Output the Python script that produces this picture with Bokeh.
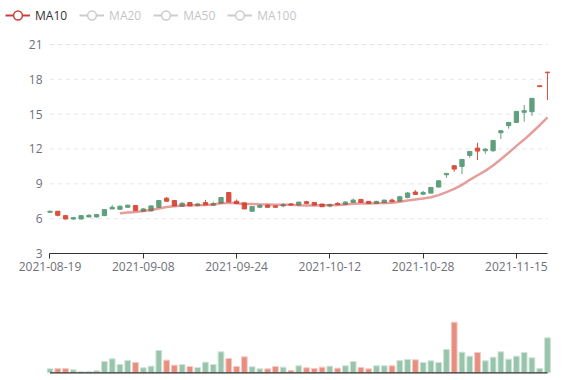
import numpy as np
import pandas as pd
from bokeh.plotting import figure
from bokeh.models import ColumnDataSource, Range1d, FixedTicker, Legend, LegendItem
from bokeh.layouts import column
from bokeh.embed import file_html
from bokeh.resources import INLINE

# ---------------- data ----------------
dates = [
    "2021-08-19", "2021-08-20", "2021-08-23", "2021-08-24", "2021-08-25", "2021-08-26",
    "2021-08-27", "2021-08-30", "2021-08-31", "2021-09-01", "2021-09-02", "2021-09-03",
    "2021-09-08", "2021-09-09", "2021-09-10", "2021-09-13", "2021-09-14", "2021-09-15",
    "2021-09-16", "2021-09-17", "2021-09-20", "2021-09-21", "2021-09-22", "2021-09-23",
    "2021-09-24", "2021-09-27", "2021-09-28", "2021-09-29", "2021-09-30", "2021-10-01",
    "2021-10-04", "2021-10-05", "2021-10-06", "2021-10-07", "2021-10-08", "2021-10-11",
    "2021-10-12", "2021-10-13", "2021-10-14", "2021-10-15", "2021-10-18", "2021-10-19",
    "2021-10-20", "2021-10-21", "2021-10-22", "2021-10-25", "2021-10-26", "2021-10-27",
    "2021-10-28", "2021-10-29", "2021-11-01", "2021-11-02", "2021-11-03", "2021-11-04",
    "2021-11-05", "2021-11-08", "2021-11-09", "2021-11-10", "2021-11-11", "2021-11-12",
    "2021-11-15", "2021-11-16", "2021-11-17", "2021-11-18", "2021-11-19",
]

opens = [6.55, 6.64, 6.26, 5.97, 5.97, 6.15, 6.15, 6.26, 6.84, 6.81,
         6.98, 7.13, 6.64, 6.67, 6.98, 7.76, 7.56, 7.07, 7.39, 7.13,
         7.39, 7.16, 7.33, 8.25, 7.50, 7.36, 6.64, 6.98, 7.16, 7.10,
         7.10, 7.26, 7.17, 7.46, 7.40, 7.26, 7.09, 7.31, 7.23, 7.40,
         7.66, 7.49, 7.31, 7.37, 7.60, 7.51, 7.83, 8.29, 8.11, 8.20,
         8.72, 9.78, 10.56, 10.50, 11.45, 12.08, 11.85, 11.85, 13.40, 14.01,
         14.29, 15.16, 15.21, 17.45, 18.62]
closes = [6.64, 6.29, 5.97, 6.09, 6.26, 6.29, 6.35, 6.78, 6.98, 7.07,
          7.16, 6.69, 6.84, 7.10, 7.56, 7.50, 7.10, 7.33, 7.10, 7.27,
          7.18, 7.30, 7.82, 7.44, 7.30, 6.84, 7.04, 7.13, 6.98, 6.98,
          7.21, 7.17, 7.43, 7.31, 7.17, 7.03, 7.23, 7.20, 7.43, 7.60,
          7.40, 7.31, 7.49, 7.60, 7.46, 7.89, 8.21, 8.09, 8.26, 8.69,
          9.26, 9.90, 10.27, 11.10, 11.79, 11.82, 11.99, 12.74, 13.57, 14.29,
          15.24, 15.30, 16.36, 17.37, 18.57]
lows = [6.49, 6.20, 5.94, 5.89, 5.95, 6.12, 6.09, 6.24, 6.82, 6.75,
        6.96, 6.67, 6.58, 6.65, 6.96, 7.48, 7.08, 7.01, 7.08, 7.04,
        7.16, 7.10, 7.31, 7.42, 7.28, 6.82, 6.60, 6.90, 6.96, 6.96,
        6.98, 7.15, 7.15, 7.23, 7.15, 7.01, 6.97, 7.18, 7.21, 7.38,
        7.38, 7.29, 7.29, 7.35, 7.44, 7.49, 7.75, 8.07, 8.03, 8.16,
        8.70, 9.52, 10.04, 9.84, 11.25, 11.05, 11.59, 11.76, 12.86, 13.75,
        14.27, 14.35, 14.87, 17.36, 16.22]
highs = [6.69, 6.66, 6.32, 6.15, 6.29, 6.38, 6.41, 6.80, 7.18, 7.13,
         7.21, 7.15, 6.90, 7.12, 7.58, 7.87, 7.58, 7.41, 7.44, 7.36,
         7.62, 7.47, 7.84, 8.27, 7.65, 7.38, 7.06, 7.24, 7.27, 7.12,
         7.33, 7.34, 7.45, 7.54, 7.42, 7.28, 7.29, 7.43, 7.51, 7.74,
         7.68, 7.51, 7.54, 7.62, 7.74, 7.97, 8.29, 8.46, 8.40, 8.72,
         9.29, 9.92, 10.58, 11.12, 11.81, 12.54, 12.08, 12.77, 13.60, 14.31,
         15.27, 15.79, 16.40, 17.46, 18.63]

volumes = [12, 13, 13, 9, 4, 4, 6, 34, 42, 25,
           37, 31, 15, 20, 67, 38, 23, 25, 19, 16,
           32, 25, 63, 43, 19, 48, 18, 12, 12, 19,
           17, 7, 21, 15, 13, 17, 20, 14, 21, 34,
           16, 12, 21, 21, 21, 37, 40, 39, 31, 36,
           31, 70, 152, 62, 50, 61, 36, 47, 63, 41,
           50, 61, 45, 13, 105]
volume_dir = ["up", "down", "down", "up", "up", "up", "up", "up", "up", "up",
              "up", "down", "up", "up", "up", "down", "down", "up", "down", "up",
              "up", "up", "up", "down", "down", "down", "up", "up", "down", "down",
              "up", "down", "up", "down", "down", "down", "up", "down", "up", "up",
              "down", "down", "up", "up", "down", "up", "up", "down", "up", "up",
              "up", "up", "down", "up", "up", "down", "up", "up", "up", "up",
              "up", "up", "up", "up", "up"]

ma_names = ["MA10", "MA20", "MA50", "MA100"]
ma_windows = [10, 20, 50, 100]
y_ticks = [3, 6, 9, 12, 15, 18, 21]
x_tick_idx = [0, 12, 24, 36, 48, 60]

# ---------------- styling ----------------
UP = "#5f9f7e"
DOWN = "#d8503e"
VOL_UP = "#98c4ab"
VOL_DOWN = "#e78e80"
VOL_UP_EDGE = "#cfe4d8"
VOL_DOWN_EDGE = "#f4cbc3"
MA_COLOR = "#c9403a"
LABEL_COLOR = "#6E7079"
FONT = "Open Sans"
W = 571
BL, BR = 46, 20

n = len(dates)
idx = list(range(n))
top = [max(o, c) for o, c in zip(opens, closes)]
bot = [min(o, c) for o, c in zip(opens, closes)]
ccol = [UP if c >= o else DOWN for o, c in zip(opens, closes)]
src = ColumnDataSource(dict(x=idx, open=opens, close=closes, low=lows, high=highs,
                            top=top, bottom=bot, color=ccol))

closes_s = pd.Series(closes, dtype=float)
ma = {name: closes_s.rolling(w, min_periods=1 if w > n else w).mean().to_numpy()
      for name, w in zip(ma_names, ma_windows)}

x_range = Range1d(-0.450, 64.515)

# ---------------- legend row (its own root, so its frame spans the full width) ----------------
p0 = figure(width=W, height=36, x_range=Range1d(-1000, -999), y_range=Range1d(-1000, -999),
            output_backend="svg", toolbar_location=None, x_axis_type=None, y_axis_type=None,
            min_border_left=0, min_border_right=0, min_border_top=0, min_border_bottom=0)
p0.outline_line_color = None
items = []
for k, name in enumerate(ma_names):
    col = MA_COLOR if k == 0 else "#555555"
    l = p0.line(x=idx, y=ma[name], line_color=col, line_width=2, visible=(k == 0))
    s = p0.scatter(x=idx, y=ma[name], marker="circle", fill_color="white", line_color=col,
                   line_width=1.5, visible=(k == 0))
    items.append(LegendItem(label=name, renderers=[l, s]))
legend = Legend(items=items, location=(5, 10), orientation="horizontal", click_policy="hide",
                glyph_width=25, glyph_height=22, label_height=22, label_standoff=5, spacing=12,
                padding=0, margin=0, border_line_color=None, background_fill_alpha=0,
                label_text_font=FONT, label_text_font_size="12px", label_text_color="#333333",
                inactive_fill_color="white", inactive_fill_alpha=0.7)
p0.add_layout(legend)

# ---------------- price chart ----------------
p1 = figure(width=W, height=254, x_range=x_range, y_range=Range1d(3, 21.086),
            output_backend="svg", toolbar_location=None,
            min_border_left=BL, min_border_right=BR, min_border_top=7, min_border_bottom=37)
p1.outline_line_color = None
p1.xgrid.visible = False
p1.ygrid.visible = False

grid_vals = y_ticks[1:]
p1.segment(x0=[0] * len(grid_vals), x1=[n - 1] * len(grid_vals), y0=grid_vals, y1=grid_vals,
           line_color="#E0E6F1", line_width=1, line_dash="4 4")

ya = p1.yaxis[0]
ya.ticker = FixedTicker(ticks=y_ticks)
ya.axis_line_color = None
ya.major_tick_line_color = None
ya.minor_tick_line_color = None
ya.major_tick_out = 0
ya.major_tick_in = 0
ya.major_label_standoff = 4
ya.major_label_text_font = FONT
ya.major_label_text_font_size = "12px"
ya.major_label_text_color = LABEL_COLOR

xa = p1.xaxis[0]
xa.ticker = FixedTicker(ticks=x_tick_idx)
xa.major_label_overrides = {i: dates[i] for i in x_tick_idx}
xa.bounds = (0, n - 1)
xa.axis_line_color = "#333333"
xa.axis_line_width = 1
xa.major_tick_line_color = "#333333"
xa.major_tick_out = 5
xa.major_tick_in = 0
xa.minor_tick_line_color = None
xa.major_label_standoff = 3
xa.major_label_text_font = FONT
xa.major_label_text_font_size = "12px"
xa.major_label_text_color = LABEL_COLOR

p1.segment(x0="x", x1="x", y0="low", y1="high", line_color="color", line_width=1, source=src)
p1.vbar(x="x", width=0.55, top="top", bottom="bottom", fill_color="color",
        line_color="color", line_width=1, source=src)

p1.line(x=idx, y=ma["MA10"], line_color=MA_COLOR, line_alpha=0.5, line_width=2.5)

# ---------------- volume ----------------
vsrc = ColumnDataSource(dict(
    x=idx, vol=volumes,
    fill=[VOL_UP if d == "up" else VOL_DOWN for d in volume_dir],
    edge=[VOL_UP_EDGE if d == "up" else VOL_DOWN_EDGE for d in volume_dir]))

p2 = figure(width=W, height=86, x_range=x_range, y_range=Range1d(-11.1, 247.2),
            output_backend="svg", toolbar_location=None, x_axis_type=None, y_axis_type=None,
            min_border_left=BL, min_border_right=BR, min_border_top=0, min_border_bottom=0)
p2.outline_line_color = None
p2.vbar(x="x", width=0.74, top="vol", bottom=0, fill_color="fill", line_color="edge",
        line_width=1, source=vsrc)
p2.segment(x0=[0], x1=[n - 1], y0=[0], y1=[0], line_color="#333333", line_width=1.3)

charts = column(p1, p2, spacing=0)
open("out.html", "w").write(file_html([p0, charts], INLINE))
